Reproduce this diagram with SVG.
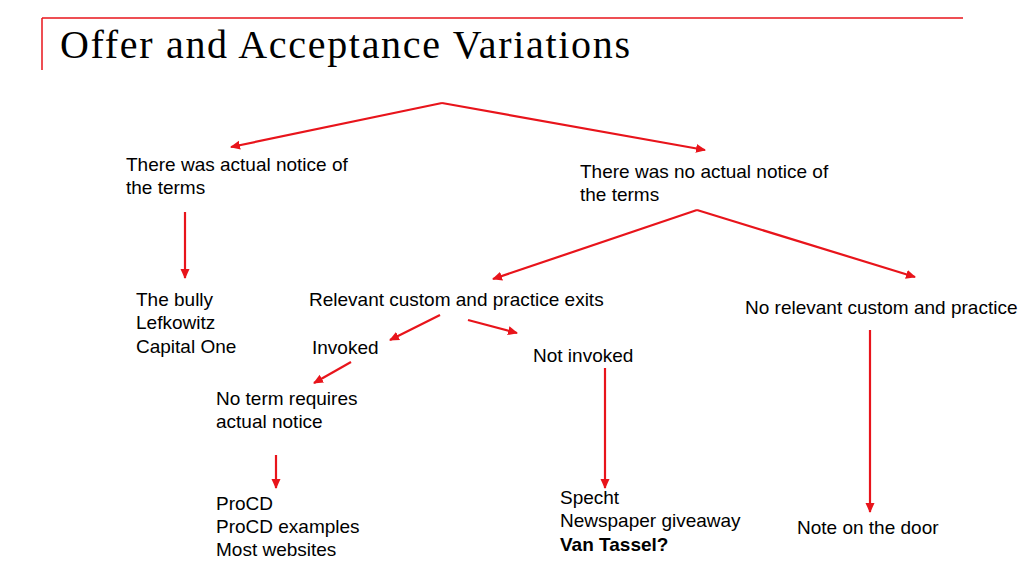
<svg xmlns="http://www.w3.org/2000/svg" width="1024" height="576" viewBox="0 0 1024 576">
<style>
.t{font-family:"Liberation Sans",Arial,sans-serif;font-size:19px;fill:#000}
.c line{stroke:#e8141b;stroke-width:2.2}
</style>
<defs><marker id="a" markerWidth="10" markerHeight="10" refX="9" refY="5" orient="auto" markerUnits="userSpaceOnUse"><path d="M0,0.5 L10,5 L0,9.5 Z" fill="#e8141b"/></marker></defs>
<rect width="1024" height="576" fill="#fff"/>
<line x1="42" y1="18" x2="963" y2="18" stroke="#e8141b" stroke-width="1.5"/>
<line x1="42" y1="18" x2="42" y2="70" stroke="#e8141b" stroke-width="1.5"/>
<text x="60" y="58" font-family="'Liberation Serif','Times New Roman',serif" font-size="40" textLength="570" lengthAdjust="spacing">Offer and Acceptance Variations</text>
<g class="c">
<line x1="442" y1="103" x2="231" y2="147" marker-end="url(#a)"/>
<line x1="442" y1="103" x2="705" y2="150" marker-end="url(#a)"/>
<line x1="185" y1="212" x2="185" y2="278" marker-end="url(#a)"/>
<line x1="697" y1="210" x2="493" y2="279" marker-end="url(#a)"/>
<line x1="697" y1="210" x2="915" y2="277" marker-end="url(#a)"/>
<line x1="440" y1="315" x2="390" y2="340" marker-end="url(#a)"/>
<line x1="468" y1="320" x2="517" y2="333" marker-end="url(#a)"/>
<line x1="351" y1="362" x2="314" y2="383" marker-end="url(#a)"/>
<line x1="276" y1="455" x2="276" y2="488" marker-end="url(#a)"/>
<line x1="605" y1="368" x2="605" y2="488" marker-end="url(#a)"/>
<line x1="870" y1="330" x2="870" y2="512" marker-end="url(#a)"/>
</g>
<g id="n1"><text class="t" x="126" y="171">There was actual notice of</text><text class="t" x="126" y="194">the terms</text></g>
<g id="n2"><text class="t" x="580" y="178">There was no actual notice of</text><text class="t" x="580" y="201">the terms</text></g>
<g id="n3"><text class="t" x="136" y="306">The bully</text><text class="t" x="136" y="329">Lefkowitz</text><text class="t" x="136" y="353">Capital One</text></g>
<g id="n4"><text class="t" x="309" y="306">Relevant custom and practice exits</text></g>
<g id="n5"><text class="t" x="745" y="314">No relevant custom and practice</text></g>
<g id="n6"><text class="t" x="312" y="354">Invoked</text></g>
<g id="n7"><text class="t" x="533" y="362">Not invoked</text></g>
<g id="n8"><text class="t" x="216" y="405">No term requires</text><text class="t" x="216" y="428">actual notice</text></g>
<g id="n9"><text class="t" x="216" y="510">ProCD</text><text class="t" x="216" y="533">ProCD examples</text><text class="t" x="216" y="556">Most websites</text></g>
<g id="n10"><text class="t" x="560" y="504">Specht</text><text class="t" x="560" y="527">Newspaper giveaway</text><text class="t" x="560" y="551" font-weight="bold">Van Tassel?</text></g>
<g id="n11"><text class="t" x="797" y="534">Note on the door</text></g>
</svg>
